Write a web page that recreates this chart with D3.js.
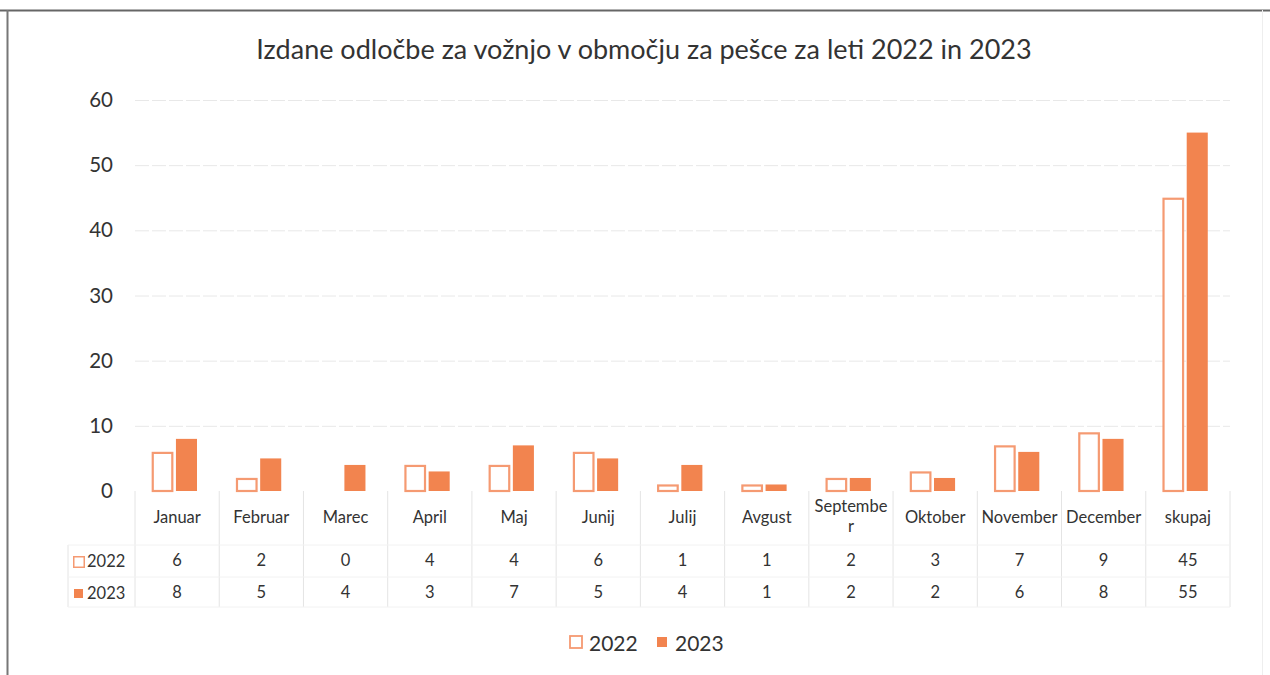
<!DOCTYPE html>
<html>
<head>
<meta charset="utf-8">
<script src="https://cdn.jsdelivr.net/npm/d3@7"></script>
<style>
	body { margin: 0; background: #fff; }
	svg { font-family: Lato, "Noto Sans", sans-serif; }
</style>
</head>
<body>
<div id="chart"></div>
<script>

const title = 'Izdane odločbe za vožnjo v območju za pešce za leti 2022 in 2023';
const months = ['Januar', 'Februar', 'Marec', 'April', 'Maj', 'Junij', 'Julij', 'Avgust', 'September', 'Oktober', 'November', 'December', 'skupaj'];
const series = ['2022', '2023'];
const values2022 = [6, 2, 0, 4, 4, 6, 1, 1, 2, 3, 7, 9, 45];
const values2023 = [8, 5, 4, 3, 7, 5, 4, 1, 2, 2, 6, 8, 55];
const yTicks = [0, 10, 20, 30, 40, 50, 60];

const width = 1270, height = 675;
const plotLeft = 135, plotRight = 1230, plotTop = 100, plotBottom = 491;
const orange = '#f2844f', orangeLine = '#f59a72';

let svg = d3.select('#chart')
	.append('svg')
		.attr('width', width)
		.attr('height', height);

// outer frame (scan edges)
svg.append('line').attr('x1', 0).attr('x2', width).attr('y1', 10.5).attr('y2', 10.5)
	.attr('stroke', '#666').attr('stroke-width', 2);
svg.append('line').attr('x1', 7.5).attr('x2', 7.5).attr('y1', 10).attr('y2', height)
	.attr('stroke', '#777').attr('stroke-width', 2);
svg.append('line').attr('x1', 1262.5).attr('x2', 1262.5).attr('y1', 10).attr('y2', height)
	.attr('stroke', '#eee').attr('stroke-width', 1);

svg.append('text')
	.attr('x', 644)
	.attr('y', 59)
	.attr('text-anchor', 'middle')
	.attr('font-size', 27)
	.attr('fill', '#333')
	.text(title);

let x = d3.scaleBand()
	.domain(months)
	.range([plotLeft, plotRight]);

let x1 = d3.scaleBand()
	.domain(series)
	.range([17, 62])
	.paddingInner(0.12);

let y = d3.scaleLinear()
	.domain([0, 60])
	.range([plotBottom, plotTop]);

// gridlines + tick labels
let yAxis = d3.axisLeft(y)
	.tickValues(yTicks)
	.tickSize(-(plotRight - plotLeft))
	.tickPadding(22);

let gy = svg.append('g')
	.attr('transform', `translate(${plotLeft}, 0)`)
	.call(yAxis);
gy.select('.domain').remove();
gy.selectAll('.tick line')
	.attr('stroke', '#e8e8e8')
	.attr('stroke-dasharray', '14,3')
	.attr('stroke-width', 1)
	.filter(d => d == 0).remove();
gy.selectAll('.tick text')
	.attr('font-size', 20.5)
	.attr('font-family', 'Lato, "Noto Sans", sans-serif')
	.attr('fill', '#333');

// bars
let data = months.map((m, i) => ({ month: m, values: [values2022[i], values2023[i]] }));

let groups = svg.selectAll('g.month')
	.data(data)
	.enter().append('g')
		.attr('class', 'month')
		.attr('transform', d => `translate(${x(d.month)}, 0)`);

groups.selectAll('rect')
	.data(d => d.values.map((v, j) => ({ key: series[j], value: v })))
	.enter().append('rect')
		.attr('x', d => x1(d.key) + (d.key == '2022' ? 0.75 : 0))
		.attr('y', d => y(d.value) + (d.key == '2022' ? 1 : 0))
		.attr('width', d => x1.bandwidth() - (d.key == '2022' ? 1.5 : 0))
		.attr('height', d => Math.max(0, plotBottom - y(d.value) - (d.key == '2022' ? 1 : 0)))
		.attr('fill', d => d.key == '2022' ? '#fff' : orange)
		.attr('stroke', d => d.key == '2022' ? orangeLine : 'none')
		.attr('stroke-width', 2.2)
		.style('display', d => d.value == 0 ? 'none' : null);

// data table
let tableBottom = 607;
let rowY = [518, 561, 593];
let table = svg.append('g');

months.forEach(function(m) {
	table.append('line')
		.attr('x1', x(m)).attr('x2', x(m))
		.attr('y1', plotBottom).attr('y2', tableBottom)
		.attr('stroke', '#e4e4e4');
});
table.append('line')
	.attr('x1', plotRight).attr('x2', plotRight)
	.attr('y1', plotBottom).attr('y2', tableBottom)
	.attr('stroke', '#e4e4e4');
table.append('line')
	.attr('x1', 68).attr('x2', 68)
	.attr('y1', 545).attr('y2', tableBottom)
	.attr('stroke', '#e4e4e4');
[545, 577, tableBottom].forEach(function(yy) {
	table.append('line')
		.attr('x1', 68).attr('x2', plotRight)
		.attr('y1', yy).attr('y2', yy)
		.attr('stroke', '#f2f2f2');
});

// category labels, wrapped by character when too wide
months.forEach(function(m) {
	let t = table.append('text')
		.attr('x', x(m) + x.bandwidth() / 2)
		.attr('y', rowY[0] + 5)
		.attr('text-anchor', 'middle')
		.attr('font-size', 16.5)
		.attr('fill', '#333')
		.text(m);
	let maxW = x.bandwidth() - 6;
	if (t.node().getComputedTextLength() > maxW) {
		let cut = m.length;
		while (cut > 1) {
			t.text(m.slice(0, cut));
			if (t.node().getComputedTextLength() <= maxW) break;
			cut--;
		}
		t.text(null);
		t.append('tspan').attr('x', x(m) + x.bandwidth() / 2).attr('y', rowY[0] - 6).text(m.slice(0, cut));
		t.append('tspan').attr('x', x(m) + x.bandwidth() / 2).attr('y', rowY[0] + 14).text(m.slice(cut));
	}
});

[values2022, values2023].forEach(function(vals, j) {
	months.forEach(function(m, i) {
		table.append('text')
			.attr('x', x(m) + x.bandwidth() / 2)
			.attr('y', rowY[j + 1] + 5)
			.attr('text-anchor', 'middle')
			.attr('font-size', 16.5)
			.attr('fill', '#333')
			.text(vals[i]);
	});
	// legend key in table
	table.append('rect')
		.attr('x', 73 + (j == 0 ? 0.75 : 1))
		.attr('y', rowY[j + 1] - 5 + (j == 0 ? 0.75 : 1))
		.attr('width', j == 0 ? 10.5 : 9)
		.attr('height', j == 0 ? 10.5 : 9)
		.attr('fill', j == 0 ? '#fff' : orange)
		.attr('stroke', j == 0 ? orangeLine : 'none')
		.attr('stroke-width', 1.5);
	table.append('text')
		.attr('x', 87)
		.attr('y', rowY[j + 1] + 5.5)
		.attr('font-size', 16.5)
		.attr('fill', '#333')
		.text(series[j]);
});

// legend
let legend = svg.append('g')
	.attr('transform', 'translate(569, 643)');
series.forEach(function(s, j) {
	let g = legend.append('g').attr('transform', `translate(${j * 86}, 0)`);
	g.append('rect')
		.attr('x', j == 0 ? 1 : 2)
		.attr('y', j == 0 ? -7 : -6)
		.attr('width', j == 0 ? 12 : 10)
		.attr('height', j == 0 ? 12 : 10)
		.attr('fill', j == 0 ? '#fff' : orange)
		.attr('stroke', j == 0 ? orangeLine : 'none')
		.attr('stroke-width', 1.8);
	g.append('text')
		.attr('x', 20)
		.attr('y', 7.5)
		.attr('font-size', 21)
		.attr('fill', '#333')
		.text(s);
});

</script>
</body>
</html>
